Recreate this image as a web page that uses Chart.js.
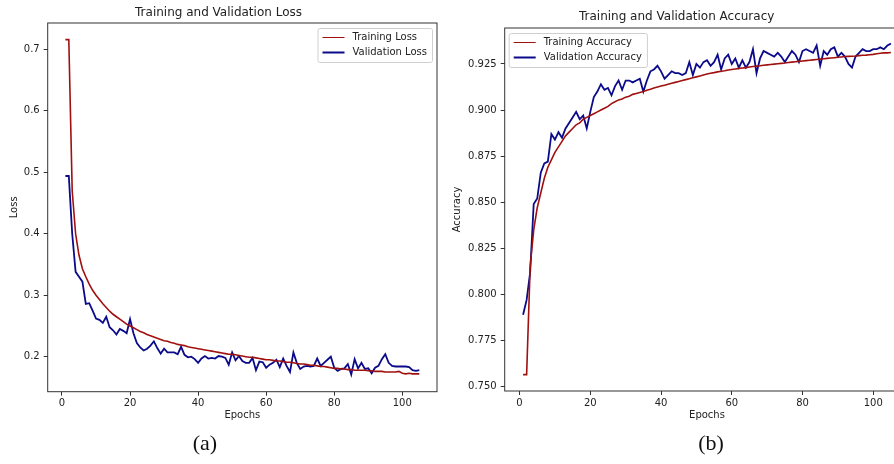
<!DOCTYPE html>
<html>
<head>
<meta charset="utf-8">
<script src="https://cdn.jsdelivr.net/npm/chart.js@4"></script>
<style>
  html, body { margin: 0; padding: 0; background: #fff; }
  body { width: 894px; height: 464px; overflow: hidden; position: relative; }
  canvas { position: absolute; top: 0; }
  #lossChart { left: 0; }
  #accChart { left: 444px; }
  .caption {
    position: absolute; top: 430px; width: 60px; margin-left: -30px;
    text-align: center; font-family: "Liberation Serif", "Times New Roman", serif;
    font-size: 22px; color: #111;
  }
</style>
</head>
<body>
<canvas id="lossChart" width="444" height="464"></canvas>
<canvas id="accChart" width="470" height="464"></canvas>
<div class="caption" style="left:205px">(a)</div>
<div class="caption" style="left:711px">(b)</div>
<script>
const trainLoss = [
  0.716, 0.716, 0.470, 0.400, 0.365, 0.343, 0.330, 0.318, 0.308, 0.300,
  0.293, 0.286, 0.280, 0.274, 0.269, 0.265, 0.261, 0.257, 0.253, 0.250,
  0.247, 0.244, 0.241, 0.239, 0.236, 0.234, 0.232, 0.230, 0.228, 0.226,
  0.225, 0.223, 0.222, 0.220, 0.219, 0.218, 0.216, 0.215, 0.214, 0.213,
  0.212, 0.211, 0.210, 0.209, 0.208, 0.207, 0.206, 0.205, 0.204, 0.204,
  0.203, 0.202, 0.201, 0.200, 0.199, 0.199, 0.198, 0.197, 0.196, 0.195,
  0.195, 0.194, 0.193, 0.193, 0.192, 0.191, 0.191, 0.190, 0.189, 0.188,
  0.188, 0.187, 0.186, 0.186, 0.185, 0.184, 0.184, 0.183, 0.182, 0.181,
  0.181, 0.180, 0.180, 0.179, 0.179, 0.178, 0.178, 0.178, 0.178, 0.177,
  0.177, 0.176, 0.176, 0.176, 0.175, 0.175, 0.175, 0.175, 0.176, 0.173,
  0.172, 0.173, 0.172, 0.172, 0.172
];
const valLoss = [
  0.494, 0.494, 0.400, 0.338, 0.330, 0.322, 0.286, 0.287, 0.275, 0.262,
  0.260, 0.255, 0.265, 0.248, 0.243, 0.236, 0.245, 0.242, 0.238, 0.261,
  0.238, 0.222, 0.215, 0.210, 0.213, 0.218, 0.225, 0.214, 0.205, 0.213,
  0.207, 0.207, 0.207, 0.204, 0.216, 0.203, 0.199, 0.200, 0.196, 0.190,
  0.197, 0.201, 0.197, 0.198, 0.197, 0.201, 0.200, 0.198, 0.187, 0.207,
  0.194, 0.201, 0.193, 0.190, 0.190, 0.198, 0.178, 0.192, 0.191, 0.182,
  0.187, 0.190, 0.195, 0.183, 0.197, 0.185, 0.175, 0.207, 0.190, 0.180,
  0.184, 0.185, 0.184, 0.185, 0.197, 0.185, 0.190, 0.195, 0.200, 0.182,
  0.177, 0.180, 0.181, 0.188, 0.171, 0.196, 0.181, 0.190, 0.180, 0.181,
  0.173, 0.182, 0.185, 0.196, 0.204, 0.190, 0.185, 0.184, 0.184, 0.184,
  0.184, 0.183, 0.178, 0.177, 0.178
];
const trainAcc = [
  0.7565, 0.7565, 0.815, 0.835, 0.847, 0.855, 0.863, 0.869, 0.873, 0.877,
  0.880, 0.883, 0.886, 0.888, 0.890, 0.892, 0.893, 0.895, 0.896, 0.897,
  0.898, 0.899, 0.900, 0.901, 0.902, 0.9035, 0.9045, 0.9055, 0.906, 0.907,
  0.9075, 0.9085, 0.909, 0.9095, 0.910, 0.9107, 0.9113, 0.912, 0.9125, 0.913,
  0.9135, 0.914, 0.9145, 0.915, 0.9155, 0.916, 0.9165, 0.917, 0.9175, 0.918,
  0.9185, 0.919, 0.9195, 0.920, 0.9203, 0.9207, 0.921, 0.9213, 0.9217, 0.922,
  0.9223, 0.9226, 0.9228, 0.923, 0.9233, 0.9236, 0.9238, 0.924, 0.9243, 0.9245,
  0.9247, 0.9249, 0.9251, 0.9253, 0.9255, 0.9258, 0.926, 0.9262, 0.9264, 0.9266,
  0.9268, 0.927, 0.9272, 0.9274, 0.9276, 0.9278, 0.928, 0.9282, 0.9284, 0.9286,
  0.9288, 0.929, 0.9291, 0.9292, 0.9293, 0.9295, 0.9297, 0.9298, 0.930, 0.9302,
  0.9305, 0.9308, 0.931, 0.931, 0.9312
];
const valAcc = [
  0.789, 0.797, 0.812, 0.849, 0.852, 0.866, 0.871, 0.872, 0.887, 0.884,
  0.888, 0.885, 0.890, 0.893, 0.896, 0.899, 0.895, 0.897, 0.890, 0.899,
  0.907, 0.910, 0.914, 0.911, 0.912, 0.908, 0.913, 0.916, 0.911, 0.916,
  0.916, 0.915, 0.916, 0.917, 0.910, 0.916, 0.921, 0.922, 0.924, 0.921,
  0.917, 0.919, 0.921, 0.920, 0.920, 0.919, 0.920, 0.926, 0.919, 0.925,
  0.923, 0.926, 0.927, 0.924, 0.926, 0.930, 0.922, 0.928, 0.930, 0.925,
  0.928, 0.923, 0.927, 0.923, 0.926, 0.933, 0.920, 0.928, 0.932, 0.931,
  0.930, 0.929, 0.931, 0.929, 0.926, 0.929, 0.932, 0.930, 0.926, 0.932,
  0.933, 0.932, 0.931, 0.935, 0.924, 0.932, 0.930, 0.933, 0.934, 0.929,
  0.931, 0.929, 0.925, 0.923, 0.929, 0.931, 0.933, 0.932, 0.932, 0.933,
  0.933, 0.934, 0.933, 0.935, 0.936
];
const epochs = trainLoss.map((_, i) => i + 1);
const epochTicks = [0, 20, 40, 60, 80, 100];
const lossTicks = [0.2, 0.3, 0.4, 0.5, 0.6, 0.7];
const accTicks = [0.750, 0.775, 0.800, 0.825, 0.850, 0.875, 0.900, 0.925];

const TRAIN_COLOR = "#a0100f";
const VAL_COLOR = "#0a0a8a";
const TEXT_COLOR = "#222";
const FONT = "'DejaVu Sans', sans-serif";

Chart.defaults.font.family = FONT;
Chart.defaults.color = TEXT_COLOR;

// matplotlib-like frame round the plot area
const framePlugin = {
  id: "frame",
  afterDatasetsDraw(chart) {
    const { ctx, chartArea: a } = chart;
    ctx.save();
    ctx.strokeStyle = "#333";
    ctx.lineWidth = 1;
    ctx.strokeRect(a.left, a.top, a.right - a.left, a.bottom - a.top);
    ctx.restore();
  },
};

// legend box drawn inside the axes
const boxLegendPlugin = {
  id: "boxLegend",
  afterDraw(chart, args, opts) {
    const { ctx, chartArea: a } = chart;
    const sets = chart.data.datasets;
    ctx.save();
    ctx.font = `10px ${FONT}`;
    const textW = Math.max(...sets.map((d) => ctx.measureText(d.label).width));
    const w = 5 + 22 + 8 + textW + 5;
    const h = 34;
    const x = opts.align === "right" ? a.right - 5 - w : a.left + 4;
    const y = a.top + 5;
    ctx.fillStyle = "rgba(255,255,255,0.85)";
    ctx.strokeStyle = "#cfcfcf";
    ctx.lineWidth = 1;
    ctx.beginPath();
    ctx.roundRect(x + 0.5, y + 0.5, w, h, 2);
    ctx.fill();
    ctx.stroke();
    sets.forEach((d, i) => {
      const ly = y + 9.5 + i * 15;
      ctx.strokeStyle = d.borderColor;
      ctx.lineWidth = i === 0 ? 1 : 2;
      ctx.beginPath();
      ctx.moveTo(x + 5, ly);
      ctx.lineTo(x + 27, ly);
      ctx.stroke();
      ctx.fillStyle = TEXT_COLOR;
      ctx.textBaseline = "middle";
      ctx.fillText(d.label, x + 35, ly);
    });
    ctx.restore();
  },
};

function makeChart(canvasId, cfg) {
  const points = (arr) => arr.map((v, i) => ({ x: epochs[i], y: v }));
  return new Chart(document.getElementById(canvasId), {
    type: "line",
    data: {
      datasets: [
        {
          label: cfg.trainLabel,
          data: points(cfg.train),
          borderColor: TRAIN_COLOR,
          borderWidth: 1.6,
          pointRadius: 0,
        },
        {
          label: cfg.valLabel,
          data: points(cfg.val),
          borderColor: VAL_COLOR,
          borderWidth: 1.8,
          pointRadius: 0,
        },
      ],
    },
    options: {
      responsive: false,
      animation: false,
      layout: { padding: cfg.padding },
      plugins: {
        legend: { display: false },
        tooltip: { enabled: false },
        title: {
          display: true,
          text: cfg.title,
          font: { size: 12, weight: "normal" },
          color: TEXT_COLOR,
          padding: cfg.titlePadding,
        },
        boxLegend: { align: cfg.legendAlign },
      },
      scales: {
        x: {
          type: "linear",
          min: -4.2,
          max: 110.2,
          afterFit: (s) => { s.height = 32; },
          afterBuildTicks: (s) => { s.ticks = epochTicks.map((v) => ({ value: v })); },
          ticks: { font: { size: 10 }, padding: 2, maxRotation: 0, autoSkip: false },
          grid: { drawOnChartArea: false, drawTicks: true, tickLength: 4, color: "#333" },
          border: { display: false },
          title: { display: true, text: "Epochs", font: { size: 10 }, padding: { top: 0, bottom: 2 } },
        },
        y: {
          min: cfg.yMin,
          max: cfg.yMax,
          afterFit: (s) => { s.width = cfg.yWidth; },
          afterBuildTicks: (s) => { s.ticks = cfg.yTicks.map((v) => ({ value: v })); },
          ticks: {
            autoSkip: false,
            font: { size: 10 },
            padding: 4,
            callback: (v) => Number(v).toFixed(cfg.yDigits),
          },
          grid: { drawOnChartArea: false, drawTicks: true, tickLength: 4, color: "#333" },
          border: { display: false },
          title: { display: true, text: cfg.yLabel, font: { size: 10 }, padding: { top: cfg.yTitlePad, bottom: 0 } },
        },
      },
    },
    plugins: [framePlugin, boxLegendPlugin],
  });
}

makeChart("lossChart", {
  title: "Training and Validation Loss",
  trainLabel: "Training Loss",
  valLabel: "Validation Loss",
  train: trainLoss,
  val: valLoss,
  yLabel: "Loss",
  yMin: 0.143,
  yMax: 0.743,
  yTicks: lossTicks,
  yDigits: 1,
  yWidth: 47.7,
  yTitlePad: 8,
  padding: { left: 0, right: 7, top: 0, bottom: 40.3 },
  titlePadding: { top: 5.3, bottom: 3.3 },
  legendAlign: "right",
});

makeChart("accChart", {
  title: "Training and Validation Accuracy",
  trainLabel: "Training Accuracy",
  valLabel: "Validation Accuracy",
  train: trainAcc,
  val: valAcc,
  yLabel: "Accuracy",
  yMin: 0.7476,
  yMax: 0.9445,
  yTicks: accTicks,
  yDigits: 3,
  yWidth: 60.7,
  yTitlePad: 7,
  padding: { left: 0, right: 4.7, top: 0, bottom: 41 },
  titlePadding: { top: 9.8, bottom: 3.8 },
  legendAlign: "left",
});
</script>
</body>
</html>
